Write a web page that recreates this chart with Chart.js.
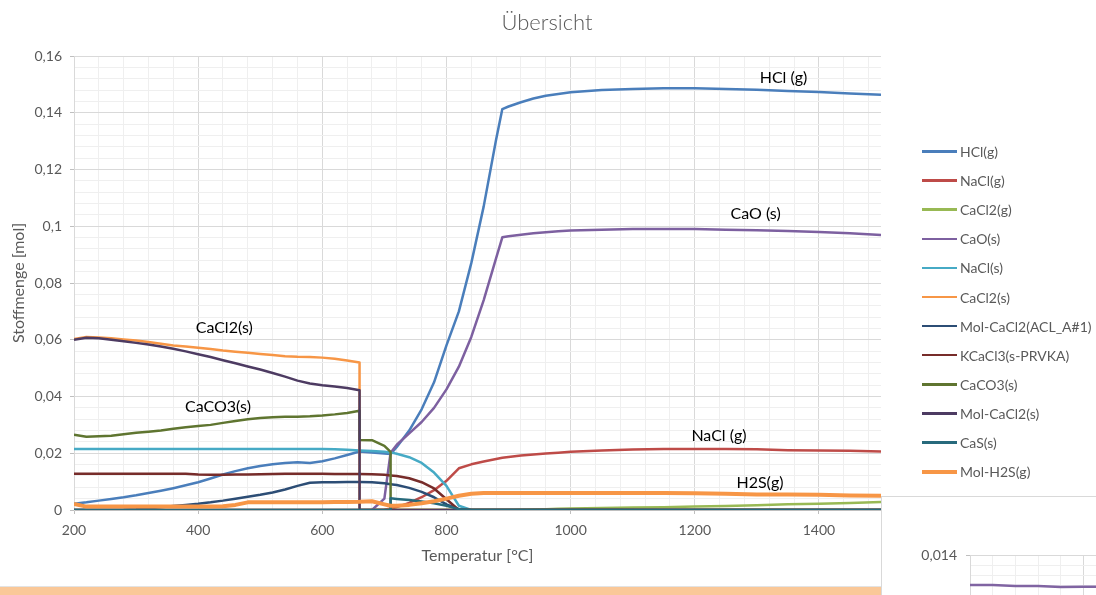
<!DOCTYPE html>
<html>
<head>
<meta charset="utf-8">
<script src="https://cdn.jsdelivr.net/npm/chart.js@4.4.1/dist/chart.umd.min.js"></script>
<style>
html,body{margin:0;padding:0;background:#fff;}
#wrap{position:relative;width:1096px;height:595px;overflow:hidden;font-family:Lato,"Open Sans",sans-serif;}
#main{position:absolute;left:0;top:0;}
#title{position:absolute;left:0;width:1094px;top:9px;line-height:26px;text-align:center;font-size:22px;color:#595959;font-weight:300;}
#legend{position:absolute;left:922px;top:137px;}
.li{display:flex;align-items:center;height:29.1px;font-size:14px;color:#595959;white-space:nowrap;}
.ln{display:inline-block;width:35px;margin-right:3px;}
#inset{position:absolute;left:881px;top:496px;width:215px;height:99px;background:#fff;border-top:1px solid #D9D9D9;border-left:1px solid #D9D9D9;overflow:hidden;}
#insetCanvas{position:absolute;left:0;top:0;}
#band{position:absolute;left:0;top:586px;width:881px;height:8px;background:#FAC898;border-top:1px solid #E3E3E3;}
</style>
</head>
<body>
<div id="wrap">
  <canvas id="main" width="1096" height="595"></canvas>
  <div id="title">Übersicht</div>
  <div id="legend"></div>
  <div id="inset"><canvas id="insetCanvas" width="330" height="201"></canvas></div>
  <div id="band"></div>
</div>
<script>
// ---------- data ----------
const temps = [200,220,240,260,280,300,320,340,360,380,400,420,440,460,480,500,520,540,560,580,600,620,640,660,
  660,680,700,710,710,
  720,740,760,780,800,820,840,860,880,
  890,900,920,940,960,980,1000,
  1050,1100,1150,1200,1250,1300,1350,1400,1450,1500];

const hclG = [0.0022,0.0027,0.0033,0.0039,0.0045,0.0052,0.0060,0.0068,0.0077,0.0087,0.0098,0.0111,0.0125,0.0137,0.0147,0.0155,0.0161,0.0166,0.0168,0.0166,0.0172,0.0182,0.0194,0.0206,
  0.0206,0.0203,0.0199,0.0197,0.0197,
  0.0222,0.0280,0.0355,0.0450,0.0580,0.0700,0.0870,0.1070,0.1306,
  0.1413,0.1422,0.1437,0.1450,0.1460,0.1466,0.1472,
  0.1480,0.1484,0.1486,0.1486,0.1484,0.1481,0.1477,0.1473,0.1468,0.1463];

const naclG = [0,0,0,0,0,0,0,0,0,0,0,0,0,0,0,0,0,0,0,0,0,0,0,0,
  0,0,0.0002,0.0004,0.0004,
  0.0010,0.0025,0.0045,0.0070,0.0103,0.0147,0.0161,0.0171,0.0180,
  0.0184,0.0187,0.0192,0.0196,0.0199,0.0202,0.0205,
  0.0210,0.0213,0.0215,0.0215,0.0215,0.0214,0.0211,0.0210,0.0209,0.0206];

const cacl2G = [0,0,0,0,0,0,0,0,0,0,0,0,0,0,0,0,0,0,0,0,0,0,0,0,
  0,0,0,0,0,
  0,0,0,0,0,0,0,0,0,
  0,0,0.0001,0.0002,0.0003,0.0004,0.0005,
  0.0007,0.0009,0.0010,0.0012,0.0014,0.0017,0.0020,0.0022,0.0025,0.0028];

const caoS = [0,0,0,0,0,0,0,0,0,0,0,0,0,0,0,0,0,0,0,0,0,0,0,0,
  0,0,0.0040,0.0202,0.0202,
  0.0230,0.0270,0.0310,0.0360,0.0425,0.0505,0.0610,0.0740,0.0888,
  0.0961,0.0965,0.0970,0.0975,0.0979,0.0982,0.0985,
  0.0988,0.0990,0.0990,0.0990,0.0988,0.0986,0.0983,0.0980,0.0975,0.0969];

const naclS = [0.0215,0.0215,0.0215,0.0215,0.0215,0.0215,0.0215,0.0215,0.0215,0.0215,0.0215,0.0215,0.0215,0.0215,0.0215,0.0215,0.0215,0.0215,0.0215,0.0215,0.0215,0.0214,0.0212,0.0210,
  0.0210,0.0208,0.0205,0.0203,0.0203,
  0.0198,0.0186,0.0166,0.0132,0.0085,0.0015,0,0,0,
  0,0,0,0,0,0,0,
  0,0,0,0,0,0,0,0,0,0];

const cacl2S = [0.0603,0.0610,0.0608,0.0605,0.0601,0.0597,0.0592,0.0586,0.0580,0.0576,0.0572,0.0567,0.0562,0.0558,0.0554,0.0550,0.0546,0.0542,0.0540,0.0539,0.0537,0.0533,0.0527,0.0520,
  0,0,0,0,0,
  0,0,0,0,0,0,0,0,0,
  0,0,0,0,0,0,0,
  0,0,0,0,0,0,0,0,0,0];

const molCacl2Acl = [0,0,0,0,0.0001,0.0003,0.0006,0.0010,0.0014,0.0018,0.0022,0.0027,0.0033,0.0040,0.0047,0.0054,0.0062,0.0072,0.0085,0.0096,0.0098,0.0098,0.0099,0.0099,
  0.0099,0.0098,0.0094,0.0091,0.0091,
  0.0088,0.0078,0.0064,0.0045,0.0020,0.0003,0,0,0,
  0,0,0,0,0,0,0,
  0,0,0,0,0,0,0,0,0,0];

const kcacl3 = [0.0128,0.0128,0.0128,0.0128,0.0128,0.0128,0.0128,0.0128,0.0128,0.0128,0.0125,0.0124,0.0124,0.0125,0.0125,0.0126,0.0127,0.0128,0.0128,0.0128,0.0128,0.0127,0.0127,0.0127,
  0.0127,0.0126,0.0124,0.0122,0.0122,
  0.0120,0.0112,0.0098,0.0076,0.0038,0,0,0,0,
  0,0,0,0,0,0,0,
  0,0,0,0,0,0,0,0,0,0];

const caco3 = [0.0265,0.0258,0.0260,0.0262,0.0267,0.0272,0.0276,0.0280,0.0286,0.0292,0.0296,0.0300,0.0307,0.0314,0.0320,0.0324,0.0327,0.0329,0.0329,0.0330,0.0333,0.0337,0.0342,0.0350,
  0.0247,0.0246,0.0226,0.0205,0,
  0,0,0,0,0,0,0,0,0,
  0,0,0,0,0,0,0,
  0,0,0,0,0,0,0,0,0,0];

const molCacl2S = [0.0600,0.0607,0.0605,0.0600,0.0595,0.0589,0.0583,0.0576,0.0568,0.0559,0.0549,0.0539,0.0528,0.0517,0.0506,0.0495,0.0483,0.0470,0.0456,0.0446,0.0440,0.0435,0.0430,0.0422,
  0,0,0,0,0,
  0,0,0,0,0,0,0,0,0,
  0,0,0,0,0,0,0,
  0,0,0,0,0,0,0,0,0,0];

const caS = [0,0,0,0,0,0,0,0,0,0,0,0,0,0,0,0,0,0,0,0,0,0,0,0,
  0,0,0,0,0.0041,
  0.0039,0.0035,0.0030,0.0024,0.0015,0.0003,0,0,0,
  0,0,0,0,0,0,0,
  0,0,0,0,0,0,0,0,0,0];

const molH2S = [0.0021,0.0012,0.0012,0.0012,0.0012,0.0012,0.0012,0.0012,0.0012,0.0012,0.0012,0.0012,0.0013,0.0018,0.0027,0.0027,0.0027,0.0027,0.0027,0.0027,0.0027,0.0028,0.0028,0.0029,
  0.0029,0.0031,0.0020,0.0015,0.0015,
  0.0015,0.0018,0.0024,0.0031,0.0040,0.0050,0.0057,0.0060,0.0060,
  0.0060,0.0060,0.0060,0.0060,0.0060,0.0060,0.0060,
  0.0060,0.0060,0.0060,0.0059,0.0057,0.0055,0.0055,0.0054,0.0051,0.0050];

const seriesNames = ['HCl(g)','NaCl(g)','CaCl2(g)','CaO(s)','NaCl(s)','CaCl2(s)','Mol-CaCl2(ACL_A#1)','KCaCl3(s-PRVKA)','CaCO3(s)','Mol-CaCl2(s)','CaS(s)','Mol-H2S(g)'];
const seriesValues = [hclG, naclG, cacl2G, caoS, naclS, cacl2S, molCacl2Acl, kcacl3, caco3, molCacl2S, caS, molH2S];

// text labels placed in the plot (data coordinates)
const annotations = [
  {text:'HCl (g)', x:1343, y:0.1522},
  {text:'CaO (s)', x:1298, y:0.1043},
  {text:'CaCl2(s)', x:442, y:0.0641},
  {text:'CaCO3(s)', x:432, y:0.0363},
  {text:'NaCl (g)', x:1239, y:0.0261},
  {text:'H2S(g)', x:1305, y:0.0097}
];

// fragment of a second chart visible at the lower right
const insetTemps = [200,240,280,320,360,400,440,480,520,560,600];
const insetValues = [0.012835,0.012835,0.012796,0.012796,0.01276,0.01277,0.01277,0.01276,0.01276,0.01275,0.01275];

// ---------- styles ----------
const seriesColors = ['#4A7EBB','#BE4B48','#98B954','#7D60A0','#46AAC5','#F79646','#2C4D75','#772C2A','#5F7530','#4D3B62','#276A7C','#F79646'];
const seriesWidths = [2.5,2.5,2.5,2.5,2.5,2.5,2.5,2.5,2.5,2.5,2.5,4];

Chart.defaults.font.family = 'Lato, "Open Sans", sans-serif';
Chart.defaults.color = '#595959';

const near = (v, step, base) => Math.abs((v - base) / step - Math.round((v - base) / step)) < 1e-6;
const fmt = v => String(Number(v.toFixed(4))).replace('.', ',');
const majX = v => near(v, 200, 200);
const majY = v => near(v, 0.02, 0);

const datasets = seriesValues.map((vals, i) => ({
  label: seriesNames[i],
  data: temps.map((t, j) => ({x: t, y: vals[j]})),
  borderColor: seriesColors[i],
  backgroundColor: seriesColors[i],
  borderWidth: seriesWidths[i],
  pointRadius: 0,
  pointHoverRadius: 0,
  tension: 0,
  fill: false,
  borderJoinStyle: 'round',
  order: seriesNames.length - 1 - i
}));

const labelPlugin = {
  id: 'inlineLabels',
  afterDatasetsDraw(chart) {
    const {ctx, scales: {x, y}} = chart;
    ctx.save();
    ctx.font = '16px Lato, "Open Sans", sans-serif';
    ctx.fillStyle = '#000';
    ctx.textAlign = 'center';
    ctx.textBaseline = 'middle';
    annotations.forEach(a => ctx.fillText(a.text, x.getPixelForValue(a.x), y.getPixelForValue(a.y)));
    ctx.restore();
  }
};

const htmlLegend = {
  id: 'htmlLegend',
  afterUpdate(chart) {
    const box = document.getElementById('legend');
    box.innerHTML = '';
    chart.data.datasets.forEach(ds => {
      const row = document.createElement('div'); row.className = 'li';
      const ln = document.createElement('span'); ln.className = 'ln';
      ln.style.height = ds.borderWidth + 'px'; ln.style.background = ds.borderColor;
      const tx = document.createElement('span'); tx.textContent = ds.label;
      row.append(ln, tx); box.append(row);
    });
  }
};

new Chart(document.getElementById('main'), {
  type: 'line',
  data: {datasets},
  options: {
    responsive: false,
    animation: false,
    devicePixelRatio: 1,
    layout: {padding: {top: 56, right: 215, left: 0, bottom: 0}},
    plugins: {legend: {display: false}, tooltip: {enabled: false}, title: {display: false}},
    scales: {
      x: {
        type: 'linear', min: 200, max: 1500,
        ticks: {stepSize: 40, includeBounds: false, autoSkip: false, maxRotation: 0, padding: 8,
          font: {size: 14}, color: '#595959', callback: v => majX(v) ? String(v) : ''},
        grid: {color: c => (c.tick && majX(c.tick.value)) ? '#D9D9D9' : '#EFEFEF', tickLength: 4,
          tickColor: c => (c.tick && majX(c.tick.value)) ? '#BFBFBF' : 'rgba(0,0,0,0)'},
        border: {color: '#BFBFBF'},
        title: {display: true, text: 'Temperatur [°C]', font: {size: 16}, color: '#595959', padding: {top: 0, bottom: 30}},
        afterFit: s => { s.height = 85; }
      },
      y: {
        type: 'linear', min: 0, max: 0.16,
        ticks: {stepSize: 0.004, autoSkip: false, padding: 8, font: {size: 14}, color: '#595959',
          callback: v => majY(v) ? fmt(v) : ''},
        grid: {color: c => (c.tick && majY(c.tick.value)) ? '#D9D9D9' : '#EFEFEF', tickLength: 4,
          tickColor: c => (c.tick && majY(c.tick.value)) ? '#BFBFBF' : 'rgba(0,0,0,0)'},
        border: {color: '#D9D9D9'},
        title: {display: true, text: 'Stoffmenge [mol]', font: {size: 16}, color: '#595959', padding: {top: 9, bottom: 0}},
        afterFit: s => { s.width = 74; }
      }
    }
  },
  plugins: [labelPlugin, htmlLegend]
});

// inset fragment
const majIX = v => near(v, 200, 200);
const majIY = v => near(v, 0.002, 0);
new Chart(document.getElementById('insetCanvas'), {
  type: 'line',
  data: {datasets: [{
    label: 'inset',
    data: insetTemps.map((t, j) => ({x: t, y: insetValues[j]})),
    borderColor: '#8064A2', borderWidth: 2.5, pointRadius: 0, tension: 0, fill: false
  }]},
  options: {
    responsive: false, animation: false, devicePixelRatio: 1,
    layout: {padding: {top: 58, right: 10, left: 0, bottom: 0}},
    plugins: {legend: {display: false}, tooltip: {enabled: false}},
    scales: {
      x: {type: 'linear', min: 200, max: 600,
        ticks: {stepSize: 40, autoSkip: false, maxRotation: 0, font: {size: 14}, callback: v => majIX(v) ? String(v) : ''},
        grid: {color: c => (c.tick && majIX(c.tick.value)) ? '#D9D9D9' : '#EFEFEF', tickLength: 4},
        border: {color: '#D9D9D9'},
        afterFit: s => { s.height = 40; }
      },
      y: {type: 'linear', min: 0.010, max: 0.014,
        ticks: {stepSize: 0.0004, autoSkip: false, padding: 9, font: {size: 14}, color: '#595959',
          callback: v => majIY(v) ? fmt(v) : ''},
        grid: {color: c => (c.tick && majIY(c.tick.value)) ? '#D9D9D9' : '#EFEFEF', tickLength: 4,
          tickColor: c => (c.tick && majIY(c.tick.value)) ? '#BFBFBF' : 'rgba(0,0,0,0)'},
        border: {color: '#D9D9D9'},
        afterFit: s => { s.width = 88; }
      }
    }
  }
});
</script>
</body>
</html>
